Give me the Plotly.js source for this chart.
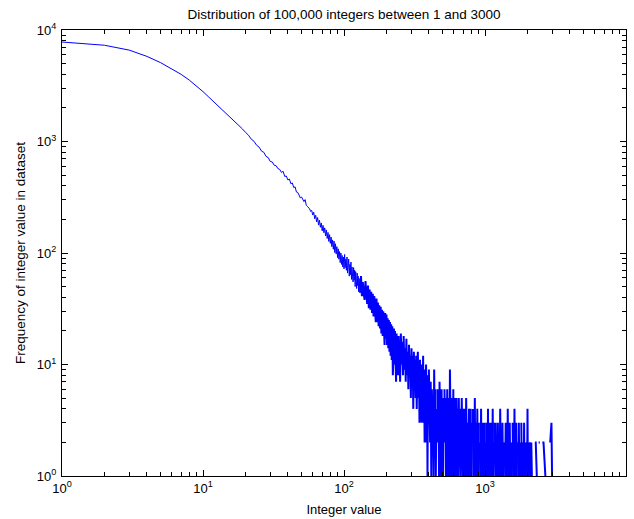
<!DOCTYPE html>
<html>
<head>
<meta charset="utf-8">
<script src="https://cdn.plot.ly/plotly-3.0.1.min.js"></script>
<style>html,body{margin:0;padding:0;background:#fff;}#chart{width:634px;height:519px;}</style>
</head>
<body>
<div id="chart"></div>
<script>
// ---- Data (integer value -> frequency) ----
const intA = [1,2,3,4,5,6,7,8,9,10,11,12,13,14,15,16,17,18,19,20,21,22,23,24,25,26,27,28,29,30];
const freqA = [7800,7300,6600,5800,5100,4500,4000,3550,3150,2800,2500,2260,2060,1880,1720,1590,1480,1390,1300,1210,1140,1050,1005,925,890,820,800,735,718,662];

const intB = [31,32,33,34,35,36,37,38,39,40,41,42,43,44,45,46,47,48,49,50,51,52,53,54,55,56,57,58,59,60,61,62,63,64,65,66,67,68,69,70,71,72,73,74,75,76,77,78,79,80,81,82,83,84,85,86,87,88,89,90,91,92,93,94,95,96,97,98,99,100,101,102,103,104,105,106,107,108,109,110,111,112,113,114,115,116,117,118,119,120,121,122,123,124,125,126,127,128,129,130];
const freqB = [655,612,606,571,562,528,540,486,490,452,460,418,425,386,392,352,349,331,312,318,296,289,301,268,262,255,249,236,241,219,232,203,218,190,208,178,197,170,186,158,177,152,168,142,161,135,153,127,146,122,139,114,131,108,128,101,121,98,114,91,109,88,103,82,100,79,95,75,92,72,97,74,88,70,92,66,82,88,62,79,64,83,58,75,62,55,74,57,70,50,68,55,48,66,51,62,45,59,49,44];

const intC1 = [132,134,136,138,140,142,144,146,148,150,152,154,156,158,160,162,164,166,168,170,172,174,176,178,180,182,184,186,188,190,192,194,196,198,200,202,204,206,208,210,212,214,216,218,220,222,224,226,228,230,232,234,236,238,240,242,244,246,248,250];
const freqC1 = [62,41,55,43,38,56,39,35,51,32,47,31,45,29,43,27,41,28,24,39,24,36,22,34,21,33,19,31,18,30,19,15,29,17,28,15,26,14,25,13,24,12,23,11,22,8,11,21,10,20,12,7,19,10,18,8,18,9,16,7];

const intC2 = [253,256,259,262,265,268,271,274,277,280,283,286,289,292,295,298,301,304,307,310,313,316,319,322,325,328,331,334,337,340,343,346,349,352,355,358,361,364,367,370,373,376,379,382,385,388,391,394,397,400];
const freqC2 = [19,10,16,8,18,9,14,7,17,8,13,6,15,8,12,5,14,7,12,4,13,6,11,5,12,4,10,13,5,10,3,11,4,9,3,10,5,12,3,9,2,8,4,10,2,8,1,7,3,9];

const intD1 = [404,408,412,416,420,424,428,432,436,440,444,448,452,456,460,464,468,472,476,480,484,488,492,496,500,504,508,512,516,520,524,528,532,536,540,544,548,552,556,560,564,568,572,576,580,584,588,592,596,600,604,608,612,616,620,624,628,632,636,640,644,648,652,656,660,664,668,672,676,680,684,688,692,696,700];
const freqD1 = [5,2,7,1,6,3,5,1,9,2,6,1,4,0,6,2,5,1,7,3,5,1,6,2,4,1,5,0,6,2,4,1,5,3,6,1,4,2,5,1,9,2,4,1,5,2,4,1,6,1,4,2,5,1,3,1,5,2,4,1,3,1,5,2,4,1,3,1,4,2,5,1,3,1,4];

const intD2 = [707,714,721,728,735,742,749,756,763,770,777,784,791,798,805,812,819,826,833,840,847,854,861,868,875,882,889,896,903,910,917,924,931,938,945,952,959,966,973,980,987,994,1001,1008,1015,1022,1029,1036,1043,1050,1057,1064,1071,1078,1085,1092,1099,1106,1113,1120,1127,1134,1141,1148,1155,1162,1169,1176,1183,1190,1197];
const freqD2 = [3,1,4,1,5,2,1,3,1,4,2,1,4,1,3,0,4,1,2,1,5,1,3,2,1,4,1,3,1,2,0,3,1,4,1,2,1,3,1,2,1,3,1,2,0,3,1,2,1,4,1,2,1,3,1,2,1,3,1,2,1,4,1,2,0,3,1,2,1,3,1];

const intD3 = [1210,1222,1234,1246,1258,1270,1282,1294,1306,1318,1330,1342,1354,1366,1378,1390,1402,1414,1426,1438,1450,1462,1474,1486,1498,1510,1522,1534,1546,1558,1570,1582,1594,1606,1618,1630,1642,1654,1666,1678,1690,1702,1714,1726,1738,1750,1762,1774,1786,1798,1810,1822,1834,1846,1858,1870,1882,1894,1906,1918,1930,1942,1954,1966,1978,1990,2002,2014,2026,2038,2050,2062,2074,2086,2098];
const freqD3 = [2,1,3,1,2,1,4,1,2,1,3,1,2,0,2,1,3,1,2,1,4,1,2,1,3,1,2,1,2,0,3,1,2,1,4,1,2,1,3,1,2,0,2,1,3,1,2,1,2,0,3,1,2,1,0,2,1,3,1,0,2,1,2,0,2,1,4,1,0,2,1,2,0,2,1];

const intD4 = [2110,2130,2150,2170,2200,2230,2260,2290,2330,2360,2400,2450,2500,2550,2600,2680,2720,2800,2900,2960,2990,3000];
const freqD4 = [0,2,1,0,2,0,2,2,1,0,2,2,0,2,2,1,0,0,2,3,1,0];

const majorTickVals = [1, 10, 100, 1000, 10000];
const majorTickText = ['10<sup>0</sup>', '10<sup>1</sup>', '10<sup>2</sup>', '10<sup>3</sup>', '10<sup>4</sup>'];

// ---- Build traces ----
const toLogSafe = v => (v > 0 ? v : null);
// one series, drawn as a thin smooth head and a denser noisy tail;
// the tail trace starts at the head's last point so the line is continuous
const headX = [].concat(intA, intB);
const headY = [].concat(freqA, freqB).map(toLogSafe);
const tailX = [intB[intB.length - 1]].concat(intC1, intC2, intD1, intD2, intD3, intD4);
const tailY = [freqB[freqB.length - 1]].concat(freqC1, freqC2, freqD1, freqD2, freqD3, freqD4).map(toLogSafe);

// minor tick positions 2..9 in each decade
const minorVals = [];
for (let d = 0; d < 4; d++) {
  for (let k = 2; k <= 9; k++) minorVals.push(k * Math.pow(10, d));
}

const FONT = 'Liberation Sans, Arial, Helvetica, sans-serif';

function axisBase() {
  return {
    type: 'log',
    range: [0, 4],
    showline: true,
    linecolor: '#000',
    linewidth: 1,
    mirror: 'ticks',
    ticks: 'inside',
    ticklen: 6,
    tickwidth: 1,
    tickcolor: '#000',
    tickmode: 'array',
    tickvals: majorTickVals,
    ticktext: majorTickText,
    showgrid: false,
    zeroline: false,
    tickfont: {family: FONT, size: 13, color: '#000'},
    minor: {ticks: 'inside', ticklen: 4, tickwidth: 1, tickcolor: '#000', tickmode: 'array', tickvals: minorVals, showgrid: false}
  };
}

const xaxis = Object.assign(axisBase(), {
  title: {text: 'Integer value', font: {family: FONT, size: 13, color: '#000'}, standoff: 10}
});
const yaxis = Object.assign(axisBase(), {
  title: {text: 'Frequency of integer value in dataset', font: {family: FONT, size: 13.5, color: '#000'}, standoff: 8},
  ticklabelstandoff: 2
});

const traces = [
  {x: headX, y: headY, type: 'scatter', mode: 'lines', line: {color: '#0000ff', width: 1}, connectgaps: false},
  {x: tailX, y: tailY, type: 'scatter', mode: 'lines', line: {color: '#0000ff', width: 2}, connectgaps: false}
];

const layout = {
  width: 634,
  height: 519,
  margin: {l: 62, r: 8, t: 30, b: 43},
  paper_bgcolor: '#fff',
  plot_bgcolor: '#fff',
  showlegend: false,
  font: {family: FONT, size: 13, color: '#000'},
  title: {
    text: 'Distribution of 100,000 integers between 1 and 3000',
    font: {family: FONT, size: 13.5, color: '#000'},
    xref: 'paper', x: 0.5, xanchor: 'center',
    yref: 'container', y: 1 - 14 / 519, yanchor: 'middle'
  },
  xaxis: xaxis,
  yaxis: yaxis
};

Plotly.newPlot('chart', traces, layout, {displayModeBar: false, staticPlot: true});
</script>
</body>
</html>
